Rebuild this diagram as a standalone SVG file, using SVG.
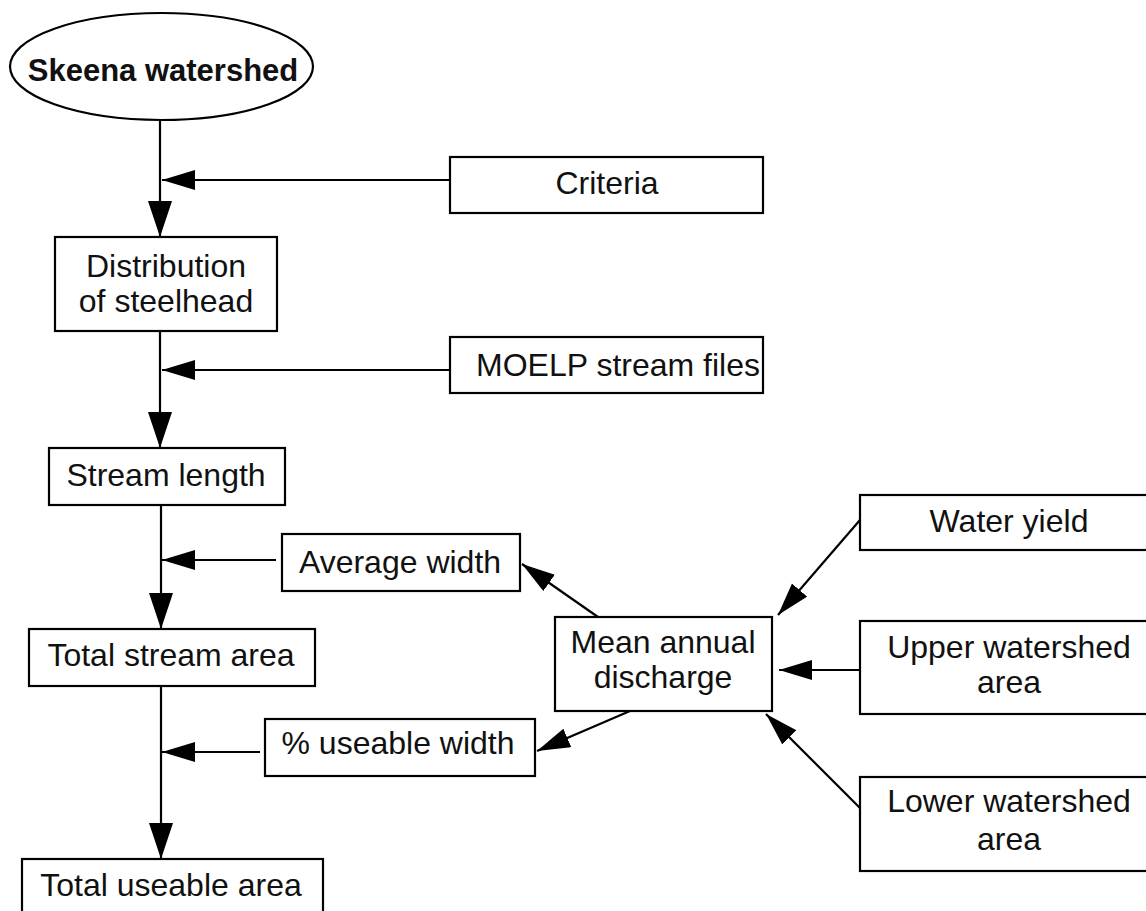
<svg xmlns="http://www.w3.org/2000/svg" width="1146" height="911" viewBox="0 0 1146 911">
<style>
.box{fill:#fff;stroke:#000;stroke-width:2.2}
.t{font-family:"Liberation Sans",Arial,sans-serif;font-size:32px;fill:#111;text-anchor:middle}
.b{font-weight:bold;font-size:31px}
.c{fill:none;stroke:#000;stroke-width:2.2}
</style>
<defs>
<marker id="ahL" markerUnits="userSpaceOnUse" markerWidth="40" markerHeight="26" refX="36" refY="12" orient="auto"><path d="M0,0 L36,12 L0,24 Z" fill="#000"/></marker>
<marker id="ah" markerUnits="userSpaceOnUse" markerWidth="36" markerHeight="22" refX="33" refY="10" orient="auto"><path d="M0,0 L33,10 L0,20 Z" fill="#000"/></marker>
</defs>
<rect width="1146" height="911" fill="#fff"/>
<g id="connectors">
<line class="c" x1="160" y1="120" x2="160" y2="237" marker-end="url(#ahL)"/>
<line class="c" x1="160" y1="331" x2="160" y2="448" marker-end="url(#ahL)"/>
<line class="c" x1="161" y1="505" x2="161" y2="629" marker-end="url(#ahL)"/>
<line class="c" x1="161" y1="686" x2="161" y2="859" marker-end="url(#ahL)"/>
<line class="c" x1="450" y1="180" x2="162" y2="180" marker-end="url(#ah)"/>
<line class="c" x1="450" y1="370" x2="162" y2="370" marker-end="url(#ah)"/>
<line class="c" x1="276" y1="560" x2="162" y2="560" marker-end="url(#ah)"/>
<line class="c" x1="260" y1="752" x2="162" y2="752" marker-end="url(#ah)"/>
<line class="c" x1="860" y1="520" x2="778" y2="615" marker-end="url(#ah)"/>
<line class="c" x1="860" y1="670" x2="779" y2="670" marker-end="url(#ah)"/>
<line class="c" x1="860" y1="808" x2="766" y2="714" marker-end="url(#ah)"/>
<line class="c" x1="598" y1="617" x2="522" y2="564" marker-end="url(#ah)"/>
<line class="c" x1="630" y1="711" x2="537" y2="751" marker-end="url(#ah)"/>
</g>
<g id="skeena">
<ellipse class="box" cx="161.5" cy="66.5" rx="151.5" ry="53.5"/>
<text class="t b" x="163" y="81">Skeena watershed</text>
</g>
<g id="criteria">
<rect class="box" x="450" y="157" width="313" height="56"/>
<text class="t" x="607" y="194">Criteria</text>
</g>
<g id="distribution">
<rect class="box" x="55" y="237" width="222" height="94"/>
<text class="t" x="166" y="277">Distribution</text>
<text class="t" x="166" y="312">of steelhead</text>
</g>
<g id="moelp">
<rect class="box" x="450" y="337" width="313" height="56"/>
<text class="t" x="618" y="376">MOELP stream files</text>
</g>
<g id="stream-length">
<rect class="box" x="49" y="448" width="236" height="57"/>
<text class="t" x="166" y="486">Stream length</text>
</g>
<g id="average-width">
<rect class="box" x="282" y="534" width="238" height="57"/>
<text class="t" x="400" y="573">Average width</text>
</g>
<g id="total-stream-area">
<rect class="box" x="29" y="629" width="286" height="57"/>
<text class="t" x="171" y="666">Total stream area</text>
</g>
<g id="useable-width">
<rect class="box" x="265" y="719" width="270" height="57"/>
<text class="t" x="398" y="754">% useable width</text>
</g>
<g id="total-useable-area">
<rect class="box" x="22" y="859" width="301" height="70"/>
<text class="t" x="171" y="896">Total useable area</text>
</g>
<g id="mean-annual-discharge">
<rect class="box" x="555" y="617" width="217" height="94"/>
<text class="t" x="663" y="653">Mean annual</text>
<text class="t" x="663" y="688">discharge</text>
</g>
<g id="water-yield">
<rect class="box" x="860" y="495" width="300" height="55"/>
<text class="t" x="1009" y="532">Water yield</text>
</g>
<g id="upper-watershed">
<rect class="box" x="860" y="621" width="300" height="93"/>
<text class="t" x="1009" y="658">Upper watershed</text>
<text class="t" x="1009" y="693">area</text>
</g>
<g id="lower-watershed">
<rect class="box" x="860" y="777" width="300" height="94"/>
<text class="t" x="1009" y="812">Lower watershed</text>
<text class="t" x="1009" y="850">area</text>
</g>
</svg>
